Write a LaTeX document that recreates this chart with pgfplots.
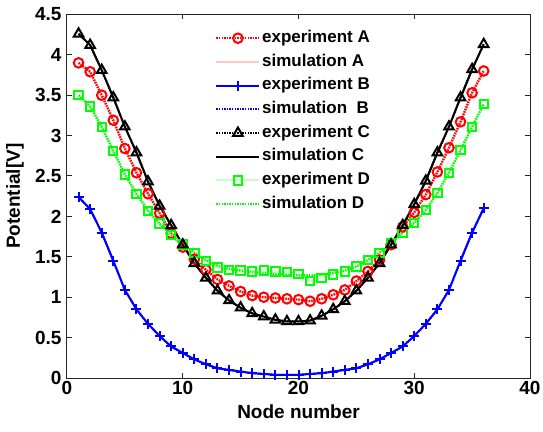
\documentclass[border=0pt]{standalone}
\usepackage{fontspec}
\setmainfont{Liberation Sans}
\usepackage{pgfplots}
\usepackage{pgfplotstable}
\pgfplotsset{compat=1.18}

\definecolor{mred}{HTML}{FF0000}
\definecolor{mpink}{HTML}{FFC8C8}
\definecolor{mblue}{HTML}{0000FF}
\definecolor{mgreen}{HTML}{00FF00}
\definecolor{mlgreen}{HTML}{C8FFC8}
\definecolor{axgrey}{HTML}{262626}

% node number and potentials [V]
\pgfplotstableread{
x   A     B     C     D     Dsim
1   3.90  2.24  4.26  3.50  3.50
2   3.79  2.09  4.12  3.36  3.36
3   3.50  1.80  3.81  3.11  3.11
4   3.19  1.45  3.47  2.81  2.81
5   2.84  1.09  3.11  2.52  2.52
6   2.54  0.85  2.79  2.28  2.28
7   2.28  0.67  2.43  2.07  2.07
8   2.04  0.52  2.13  1.91  1.91
9   1.79  0.39  1.89  1.77  1.77
10  1.62  0.31  1.65  1.65  1.65
11  1.47  0.23  1.42  1.55  1.55
12  1.34  0.17  1.24  1.45  1.46
13  1.22  0.12  1.08  1.37  1.39
14  1.14  0.10  0.96  1.34  1.35
15  1.07  0.08  0.87  1.33  1.33
16  1.02  0.06  0.80  1.32  1.31
17  1.00  0.05  0.76  1.33  1.30
18  0.99  0.04  0.72  1.32  1.29
19  0.98  0.04  0.70  1.31  1.28
20  0.97  0.04  0.70  1.29  1.27
21  0.95  0.05  0.71  1.20  1.27
22  0.98  0.06  0.77  1.24  1.28
23  1.03  0.08  0.85  1.28  1.30
24  1.09  0.10  0.95  1.32  1.33
25  1.20  0.12  1.08  1.38  1.38
26  1.32  0.17  1.24  1.46  1.46
27  1.46  0.23  1.42  1.55  1.55
28  1.65  0.31  1.65  1.67  1.67
29  1.87  0.39  1.89  1.80  1.80
30  2.05  0.52  2.15  1.92  1.92
31  2.27  0.67  2.44  2.08  2.08
32  2.55  0.85  2.79  2.29  2.29
33  2.85  1.09  3.11  2.54  2.54
34  3.17  1.45  3.47  2.82  2.82
35  3.53  1.80  3.82  3.11  3.11
36  3.80  2.10  4.13  3.39  3.39
}\nodedata

\pgfplotsset{
  expA/.style={mred, line width=2.4pt, dash pattern=on 1.4pt off 1.2pt,
    mark=o, mark size=4.8pt, mark options={solid, line width=2pt}},
  simA/.style={mpink, line width=2pt, solid, no marks},
  expB/.style={mblue, line width=2pt, solid,
    mark=+, mark size=5pt, mark options={solid, line width=2pt}},
  simB/.style={mblue, line width=2pt, dash pattern=on 1.4pt off 1.2pt, no marks},
  expC/.style={black, line width=2pt, dash pattern=on 1.4pt off 1.2pt,
    mark=triangle, mark size=5.5pt, mark options={solid, line width=2pt}},
  simC/.style={black, line width=2pt, solid, no marks},
  expD/.style={mlgreen, line width=2pt, solid,
    mark=square, mark size=4.2pt, mark options={solid, mgreen, line width=2pt}},
  simD/.style={mgreen, line width=2.4pt, dash pattern=on 1.4pt off 1.2pt, no marks},
}

\begin{document}
\begin{tikzpicture}
\begin{axis}[
  at={(0,0)}, anchor=origin,
  scale only axis, width=463pt, height=363.6pt,
  xmin=0, xmax=40, ymin=0, ymax=4.5,
  xtick={0,10,...,40}, ytick={0,0.5,...,4.5},
  tick align=inside, major tick length=5pt,
  axis line style={line width=1pt, axgrey},
  tick style={line width=1pt, axgrey},
  ticklabel style={font=\bfseries\fontsize{19}{22}\selectfont},
  yticklabel style={xshift=-2pt},
  /pgf/number format/assume math mode=true,
  xlabel={Node number}, ylabel={Potential[V]},
  label style={font=\bfseries\fontsize{19}{22}\selectfont},
  xlabel style={at={(axis description cs:0.5,-0.0935)}, anchor=center},
  ylabel style={at={(axis description cs:-0.1123,0.5)}, anchor=center},
  legend style={at={(axis description cs:0.3197,0.9605)}, anchor=north west,
    draw=none, fill=none, inner sep=0pt, row sep=5.2pt,
    font=\bfseries\fontsize{17}{20}\selectfont,
    nodes={inner sep=1.5pt, text height=12pt, text depth=3.5pt}},
  legend cell align=left,
  legend image code/.code={
    \draw[mark repeat=2, mark phase=2]
      plot coordinates {(0pt,0pt) (21.5pt,0pt) (43pt,0pt)};},
]
\addlegendimage{expA}\addlegendentry{experiment A}
\addlegendimage{simA}\addlegendentry{simulation A}
\addlegendimage{expB}\addlegendentry{experiment B}
\addlegendimage{simB}\addlegendentry{simulation\ \ B}
\addlegendimage{expC}\addlegendentry{experiment C}
\addlegendimage{simC}\addlegendentry{simulation C}
\addlegendimage{expD}\addlegendentry{experiment D}
\addlegendimage{simD}\addlegendentry{simulation D}

\addplot[simA, forget plot] table[x=x, y=A] {\nodedata};
\addplot[expA, forget plot] table[x=x, y=A] {\nodedata};
\addplot[expB, forget plot] table[x=x, y=B] {\nodedata};
\addplot[simB, forget plot] table[x=x, y=B] {\nodedata};
\addplot[expD, forget plot] table[x=x, y=D] {\nodedata};
\addplot[simD, forget plot] table[x=x, y=Dsim] {\nodedata};
\addplot[expC, forget plot] table[x=x, y=C] {\nodedata};
\addplot[simC, forget plot] table[x=x, y=C] {\nodedata};
\end{axis}
\pgfresetboundingbox
\useasboundingbox (-67pt,-53pt) rectangle (476pt,378pt);
\end{tikzpicture}
\end{document}
